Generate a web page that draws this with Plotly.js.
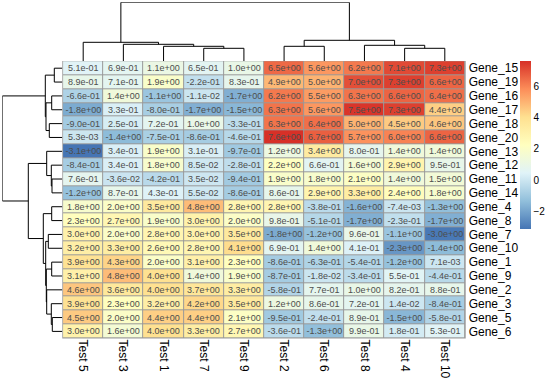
<!DOCTYPE html>
<html>
<head>
<meta charset="utf-8">
<script src="https://cdn.plot.ly/plotly-3.0.1.min.js"></script>
<style>html,body{margin:0;padding:0;background:#fff;}#chart{width:554px;height:383px;}</style>
</head>
<body>
<div id="chart"></div>
<script>
// ---- Data (display order after clustering) ----
const testLabels = ["Test 5","Test 3","Test 1","Test 7","Test 9","Test 2","Test 6","Test 8","Test 4","Test 10"];
const geneLabels = ["Gene_15","Gene_19","Gene_16","Gene_17","Gene_18","Gene_20","Gene_13","Gene_12","Gene_11","Gene_14",
                    "Gene_4","Gene_8","Gene_7","Gene_10","Gene_1","Gene_9","Gene_2","Gene_3","Gene_5","Gene_6"];

const gene15 = [0.51, 0.69, 1.1, 0.65, 1.0, 6.5, 5.6, 6.2, 7.1, 7.3];
const gene19 = [0.89, 0.71, 1.9, -0.22, 0.83, 4.9, 5.0, 7.0, 7.3, 6.6];
const gene16 = [-0.66, 1.4, -1.1, -0.011, -1.7, 6.2, 5.5, 6.3, 6.6, 6.4];
const gene17 = [-1.8, 0.33, -0.80, -1.7, -1.5, 6.3, 5.6, 7.5, 7.3, 4.4];
const gene18 = [-0.90, 0.25, 0.72, 1.0, -0.33, 6.3, 6.4, 5.0, 4.5, 4.6];
const gene20 = [0.0053, -1.4, -0.75, -0.86, -0.46, 7.6, 6.7, 5.7, 6.0, 6.6];
const gene13 = [-3.1, 0.34, 1.9, 0.31, -0.97, 1.2, 3.4, 0.80, 1.4, 1.4];
const gene12 = [-0.84, 0.34, 1.8, 0.085, -0.28, 2.2, 0.66, 1.6, 2.9, 0.95];
const gene11 = [0.76, -0.036, -0.42, 0.035, -0.94, 1.9, 1.8, 2.1, 1.4, 1.5];
const gene14 = [-1.2, 0.87, 0.43, 0.055, -0.86, 0.86, 2.9, 3.3, 2.4, 1.8];
const gene4  = [1.8, 2.0, 3.5, 4.8, 2.8, 2.8, -0.38, -1.6, -0.0074, -1.3];
const gene8  = [2.3, 2.7, 1.9, 3.0, 2.0, 0.98, -0.51, -1.7, -0.23, -1.7];
const gene7  = [3.0, 2.0, 2.8, 3.0, 3.5, -1.8, -1.2, 0.96, -1.1, -3.0];
const gene10 = [3.2, 3.3, 2.6, 2.8, 4.1, 0.69, 1.4, 0.41, -2.3, -1.4];
const gene1  = [3.9, 4.3, 2.0, 3.1, 2.3, -0.86, -0.63, -0.54, -1.2, 0.0071];
const gene9  = [3.1, 4.8, 4.0, 1.4, 1.9, -0.87, -0.018, -0.34, 0.55, -0.44];
const gene2  = [4.6, 3.6, 4.0, 3.7, 3.3, -0.58, 0.77, 1.0, 0.82, 0.88];
const gene3  = [3.9, 2.3, 3.2, 4.2, 3.5, 1.2, 0.86, 0.72, 0.014, -0.84];
const gene5  = [4.5, 2.0, 4.4, 4.4, 2.1, -0.95, -0.24, 0.89, -1.5, -0.58];
const gene6  = [3.0, 1.6, 4.0, 3.3, 2.7, -0.36, -1.3, 0.99, 0.18, 0.53];

// Column dendrogram merges (mN refers to the N-th merge)
const colMergeA = ["Test 7","Test 1","Test 3","Test 5","Test 2","Test 4","Test 8","m5","m4"];
const colMergeB = ["Test 9","m1","m2","m3","Test 6","Test 10","m6","m7","m8"];
const colMergeH = [12.7, 14.7, 16.7, 18.7, 14.7, 12.7, 15.7, 20.7, 58.7];

// Row dendrogram merges
const rowMergeA = ["Gene_15","Gene_16","Gene_18","m2","m1","Gene_11","Gene_12","Gene_13","Gene_4","Gene_7","Gene_1","Gene_5","Gene_3","Gene_2","m11","m10","m9","m8","m5"];
const rowMergeB = ["Gene_19","Gene_17","Gene_20","m3","m4","Gene_14","m6","m7","Gene_8","Gene_10","Gene_9","Gene_6","m12","m13","m14","m15","m16","m17","m18"];
const rowMergeH = [8, 10.6, 13, 16.3, 17, 10.3, 11, 15.6, 10.6, 14, 10.6, 10, 11, 15.6, 16, 16.6, 19, 34, 60];

// ---- Build ----
const z = [gene15,gene19,gene16,gene17,gene18,gene20,gene13,gene12,gene11,gene14,
           gene4,gene8,gene7,gene10,gene1,gene9,gene2,gene3,gene5,gene6];
function fmt(v){
  const s = v.toExponential(1);
  return s.replace(/e([+-])(\d+)$/, (m, sg, d) => 'e' + sg + (d.length < 2 ? '0' + d : d));
}
const txt = z.map(r => r.map(fmt));
let zmin = Infinity, zmax = -Infinity;
z.forEach(r => r.forEach(v => { if (v < zmin) zmin = v; if (v > zmax) zmax = v; }));

function dendro(order, A, B, Hs){
  const node = {};
  order.forEach((n, i) => node[n] = {p: i, h: 0});
  const pos = [], hh = [];
  for (let i = 0; i < A.length; i++){
    const a = node[A[i]], b = node[B[i]], h = Hs[i];
    pos.push(a.p, a.p, b.p, b.p, null);
    hh.push(a.h, h, h, b.h, null);
    node['m' + (i + 1)] = {p: (a.p + b.p) / 2, h: h};
  }
  return {pos, hh};
}
const cd = dendro(testLabels, colMergeA, colMergeB, colMergeH);
const rd = dendro(geneLabels, rowMergeA, rowMergeB, rowMergeH);

const W = 554, H = 383;
const hx0 = 62.3 / W, hx1 = 465.7 / W;
const hyTop = 1 - 61 / H, hyBot = 1 - 338.6 / H;
const FONT = "Liberation Sans, Arial, sans-serif";

const colorscale = [[0,'#4575B4'],[1/6,'#91BFDB'],[2/6,'#E0F3F8'],[3/6,'#FFFFBF'],[4/6,'#FEE090'],[5/6,'#FC8D59'],[1,'#D73027']];

const traces = [
  {
    type: 'heatmap', x: testLabels, y: geneLabels, z: z,
    text: txt, texttemplate: '%{text}',
    textfont: {family: FONT, size: 9, color: '#4D4D4D'},
    colorscale: colorscale, zmin: zmin, zmax: zmax,
    xgap: 1, ygap: 1, hoverinfo: 'skip',
    colorbar: {
      x: 520 / W, xanchor: 'left', y: hyTop, yanchor: 'top',
      thickness: 11, thicknessmode: 'pixels', len: 168, lenmode: 'pixels',
      xpad: 0, ypad: 0, outlinewidth: 0, ticks: '',
      tickvals: [-2, 0, 2, 4, 6], tickfont: {family: FONT, size: 10, color: '#000'}
    }
  },
  {type: 'scatter', mode: 'lines', x: cd.pos, y: cd.hh, xaxis: 'x3', yaxis: 'y3',
   line: {color: '#000', width: 1}, hoverinfo: 'skip', showlegend: false, connectgaps: false},
  {type: 'scatter', mode: 'lines', x: rd.hh, y: rd.pos, xaxis: 'x2', yaxis: 'y2',
   line: {color: '#000', width: 1}, hoverinfo: 'skip', showlegend: false, connectgaps: false}
];

const hidden = {visible: false, showgrid: false, zeroline: false, fixedrange: true};
const layout = {
  width: W, height: H,
  margin: {l: 0, r: 0, t: 0, b: 0, pad: 0},
  paper_bgcolor: '#fff', plot_bgcolor: 'rgba(0,0,0,0)',
  showlegend: false,
  font: {family: FONT, color: '#000'},
  shapes: [{type: 'rect', xref: 'x domain', yref: 'y domain', x0: 0, x1: 1, y0: 0, y1: 1,
            fillcolor: '#999999', line: {width: 0}, layer: 'below'}],
  xaxis: {domain: [hx0, hx1], range: [-0.52, 9.52], showgrid: false, zeroline: false, ticks: '',
          tickmode: 'array', tickvals: testLabels, ticktext: testLabels,
          tickangle: 90, tickfont: {family: FONT, size: 12, color: '#000'}, anchor: 'y', showline: false},
  yaxis: {domain: [hyBot, hyTop], range: [19.52, -0.52], showgrid: false, zeroline: false, ticks: '',
          tickmode: 'array', tickvals: geneLabels, ticktext: geneLabels, ticklabelstandoff: 2,
          side: 'right', tickfont: {family: FONT, size: 12, color: '#000'}, anchor: 'x', showline: false},
  xaxis2: Object.assign({domain: [2.3 / W, 62.3 / W], range: [60, 0], anchor: 'y2'}, hidden),
  yaxis2: Object.assign({domain: [hyBot, hyTop], range: [19.52, -0.52], anchor: 'x2'}, hidden),
  xaxis3: Object.assign({domain: [hx0, hx1], range: [-0.52, 9.52], anchor: 'y3'}, hidden),
  yaxis3: Object.assign({domain: [hyTop, 1 - 2.3 / H], range: [0, 58.7], anchor: 'x3'}, hidden)
};
Plotly.newPlot('chart', traces, layout, {displayModeBar: false, staticPlot: true});
</script>
</body>
</html>
